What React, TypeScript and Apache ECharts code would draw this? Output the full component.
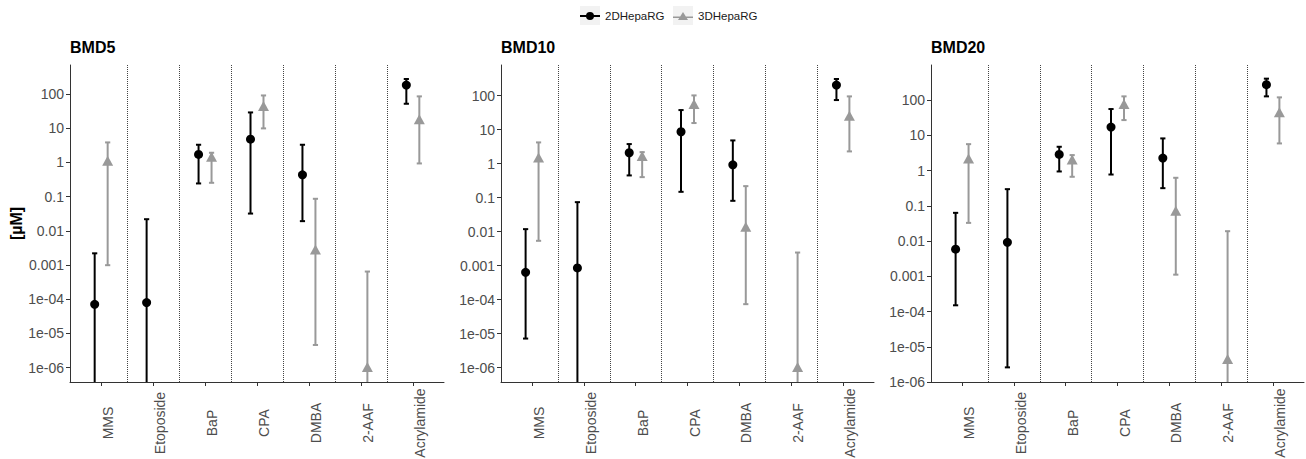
import React, { useEffect, useRef } from "react";
import * as echarts from "echarts";

// ---------- data ----------
const categories = ["MMS", "Etoposide", "BaP", "CPA", "DMBA", "2-AAF", "Acrylamide"];
const groupNames = ["2DHepaRG", "3DHepaRG"];
const panelTitles = ["BMD5", "BMD10", "BMD20"];

// y tick values (µM) and their labels
const yTickValues = [1e-6, 1e-5, 1e-4, 1e-3, 0.01, 0.1, 1, 10, 100];
const yTickLabels = ["1e-06", "1e-05", "1e-04", "0.001", "0.01", "0.1", "1", "10", "100"];

// axis ranges (µM) per panel
const yMinValues = [3.8e-7, 3.8e-7, 1e-6];
const yMaxValues = [707, 800, 986];

// BMD5
const bmd5_2D = [7.1e-5, 8.0e-5, 1.71, 4.8, 0.435, null, 183];
const bmd5_2D_lo = [1e-8, 1e-8, 0.243, 0.032, 0.0192, null, 52];
const bmd5_2D_hi = [2.2e-3, 0.0219, 3.29, 29, 3.29, null, 275];
const bmd5_3D = [1.12, null, 1.47, 44.6, 2.84e-3, 1.05e-6, 18.2];
const bmd5_3D_lo = [9.9e-4, null, 0.254, 9.9, 4.6e-6, 1e-8, 0.935];
const bmd5_3D_hi = [3.85, null, 1.92, 91, 0.0865, 6.45e-4, 85.5];

// BMD10
const bmd10_2D = [6.4e-4, 8.6e-4, 2.1, 8.7, 0.93, null, 206];
const bmd10_2D_lo = [7.2e-6, 1e-8, 0.452, 0.149, 0.081, null, 74.5];
const bmd10_2D_hi = [0.0119, 0.074, 3.78, 37.8, 4.84, null, 310];
const bmd10_3D = [1.53, null, 1.68, 56.9, 0.0139, 1.05e-6, 25.8];
const bmd10_3D_lo = [5.4e-3, null, 0.403, 15.7, 7.4e-5, 1e-8, 2.3];
const bmd10_3D_hi = [4.23, null, 2.19, 102, 0.219, 2.44e-3, 95.5];

// BMD20
const bmd20_2D = [5.85e-3, 9.2e-3, 2.86, 17.1, 2.25, null, 273];
const bmd20_2D_lo = [1.5e-4, 2.6e-6, 0.94, 0.77, 0.316, null, 127];
const bmd20_2D_hi = [0.063, 0.296, 4.72, 55.5, 8.15, null, 404];
const bmd20_3D = [2.2, null, 2.06, 76.9, 0.0718, 4.5e-6, 44.7];
const bmd20_3D_lo = [0.0327, null, 0.664, 27, 1.11e-3, 1e-8, 5.87];
const bmd20_3D_hi = [5.6, null, 2.74, 127, 0.622, 0.019, 119];

const panelData = [
  [
    [bmd5_2D, bmd5_2D_lo, bmd5_2D_hi],
    [bmd5_3D, bmd5_3D_lo, bmd5_3D_hi],
  ],
  [
    [bmd10_2D, bmd10_2D_lo, bmd10_2D_hi],
    [bmd10_3D, bmd10_3D_lo, bmd10_3D_hi],
  ],
  [
    [bmd20_2D, bmd20_2D_lo, bmd20_2D_hi],
    [bmd20_3D, bmd20_3D_lo, bmd20_3D_hi],
  ],
];

// ---------- style ----------
const FONT = "'Liberation Sans', Arial, sans-serif";
const groupColors = ["#000000", "#999999"];
const groupSymbols = ["circle", "triangle"];
const groupSymbolSizes: any[] = [9, [11, 10]];
const dodge = [-0.125, 0.125];
const capHalf = 0.05;
const grids = [
  { left: 70, top: 65, width: 374, height: 317, outerBoundsMode: "none", containLabel: false },
  { left: 501, top: 65, width: 373, height: 317, outerBoundsMode: "none", containLabel: false },
  { left: 931, top: 65, width: 373, height: 317, outerBoundsMode: "none", containLabel: false },
];
const legendLefts = [580, 673];

const lg = (v: number) => Math.log10(v);
const catPositions = categories.map((_, i) => i + 1);
const boundaries = categories.slice(1).map((_, i) => i + 1.5);
const yTickLogs = yTickValues.map((v) => Math.round(lg(v)));

const legendIcons = [
  "path://M0,4 L20,4 L20,6 L0,6 Z M6,5 A4,4 0 1 1 14,5 A4,4 0 1 1 6,5 Z",
  "path://M0,5.5 L20,5.5 L20,7 L0,7 Z M10,1 L15,9 L5,9 Z",
];

function buildOption() {
  const xAxis: any[] = [];
  const yAxis: any[] = [];
  const series: any[] = [];
  const title: any[] = [];

  grids.forEach((g, p) => {
    title.push({
      text: panelTitles[p],
      left: g.left,
      top: 39,
      padding: 0,
      textStyle: { fontSize: 16, fontWeight: "bold", color: "#000", fontFamily: FONT },
    });
    xAxis.push({
      type: "value",
      gridIndex: p,
      min: 0.4,
      max: 7.6,
      splitLine: { show: false },
      axisLine: { onZero: false, lineStyle: { color: "#333", width: 1 } },
      axisTick: { customValues: catPositions, length: 4, lineStyle: { color: "#333" } },
      axisLabel: {
        customValues: catPositions,
        formatter: (v: number) => categories[Math.round(v) - 1],
        rotate: 90,
        align: "center",
        verticalAlign: "top",
        margin: 41,
        fontSize: 14,
        color: "#4d4d4d",
        fontFamily: FONT,
      },
    });
    yAxis.push({
      type: "value",
      gridIndex: p,
      min: lg(yMinValues[p]),
      max: lg(yMaxValues[p]),
      splitLine: { show: false },
      axisLine: { show: true, onZero: false, lineStyle: { color: "#333", width: 1 } },
      axisTick: { show: true, customValues: yTickLogs, length: 4, lineStyle: { color: "#333" } },
      axisLabel: {
        customValues: yTickLogs,
        formatter: (v: number) => yTickLabels[yTickLogs.indexOf(Math.round(v))],
        margin: 6,
        fontSize: 14,
        color: "#4d4d4d",
        fontFamily: FONT,
      },
      name: p === 0 ? "[µM]" : "",
      nameLocation: "middle",
      nameGap: 46,
      nameTextStyle: { fontSize: 16, fontWeight: "bold", color: "#000", fontFamily: FONT },
    });

    panelData[p].forEach((grp, gi) => {
      const [mid, lo, hi] = grp;
      const barRows: number[][] = [];
      const ptRows: number[][] = [];
      mid.forEach((v, i) => {
        if (v == null) return;
        const x = i + 1 + dodge[gi];
        barRows.push([x, lg(lo[i] as number), lg(hi[i] as number)]);
        ptRows.push([x, lg(v)]);
      });
      const color = groupColors[gi];
      series.push({
        type: "custom",
        name: groupNames[gi],
        xAxisIndex: p,
        yAxisIndex: p,
        itemStyle: { color },
        data: barRows,
        renderItem: (params: any, api: any) => {
          const x = api.value(0);
          const lo = api.value(1);
          const hi = api.value(2);
          const cs = params.coordSys;
          const top = cs.y;
          const bottom = cs.y + cs.height;
          const pLo = api.coord([x, lo]);
          const pHi = api.coord([x, hi]);
          const xl = api.coord([x - capHalf, hi])[0];
          const xr = api.coord([x + capHalf, hi])[0];
          const yLo = Math.min(pLo[1], bottom);
          const yHi = Math.max(pHi[1], top);
          const style = { stroke: color, lineWidth: 2 };
          const children: any[] = [
            { type: "line", shape: { x1: pLo[0], y1: yLo, x2: pLo[0], y2: yHi }, style },
          ];
          if (pHi[1] >= top) children.push({ type: "line", shape: { x1: xl, y1: pHi[1], x2: xr, y2: pHi[1] }, style });
          if (pLo[1] <= bottom) children.push({ type: "line", shape: { x1: xl, y1: pLo[1], x2: xr, y2: pLo[1] }, style });
          return { type: "group", children };
        },
        z: 2,
      });
      const sc: any = {
        type: "scatter",
        name: groupNames[gi],
        xAxisIndex: p,
        yAxisIndex: p,
        symbol: groupSymbols[gi],
        symbolSize: groupSymbolSizes[gi],
        itemStyle: { color, opacity: 1 },
        data: ptRows,
        z: 3,
      };
      if (gi === 0) {
        sc.markLine = {
          silent: true,
          symbol: "none",
          label: { show: false },
          lineStyle: { type: "dotted", color: "#444", width: 1 },
          data: boundaries.map((b) => ({ xAxis: b })),
          z: 1,
        };
      }
      series.push(sc);
    });
  });

  return {
    animation: false,
    backgroundColor: "#ffffff",
    title,
    legend: groupNames.map((n, i) => ({
      left: legendLefts[i],
      top: 10,
      itemWidth: 20,
      itemHeight: 9,
      padding: 0,
      selectedMode: false,
      textStyle: { fontSize: 11.5, color: "#1a1a1a", fontFamily: FONT },
      data: [{ name: n, icon: legendIcons[i], itemStyle: { color: groupColors[i] } }],
    })),
    graphic: legendLefts.map((l) => ({
      type: "rect",
      left: l,
      top: 6,
      shape: { width: 20, height: 19 },
      style: { fill: "#f2f2f2" },
      z: -1,
    })),
    grid: grids,
    xAxis,
    yAxis,
    series,
  };
}

export default function App() {
  const ref = useRef<HTMLDivElement>(null);
  useEffect(() => {
    if (!ref.current) return;
    const chart = echarts.init(ref.current, undefined, { renderer: "svg" });
    chart.setOption(buildOption() as any);
    return () => chart.dispose();
  }, []);
  return (
    <div
      ref={ref}
      style={{ position: "absolute", left: 0, top: 0, width: 1306, height: 459, background: "#fff" }}
    />
  );
}
